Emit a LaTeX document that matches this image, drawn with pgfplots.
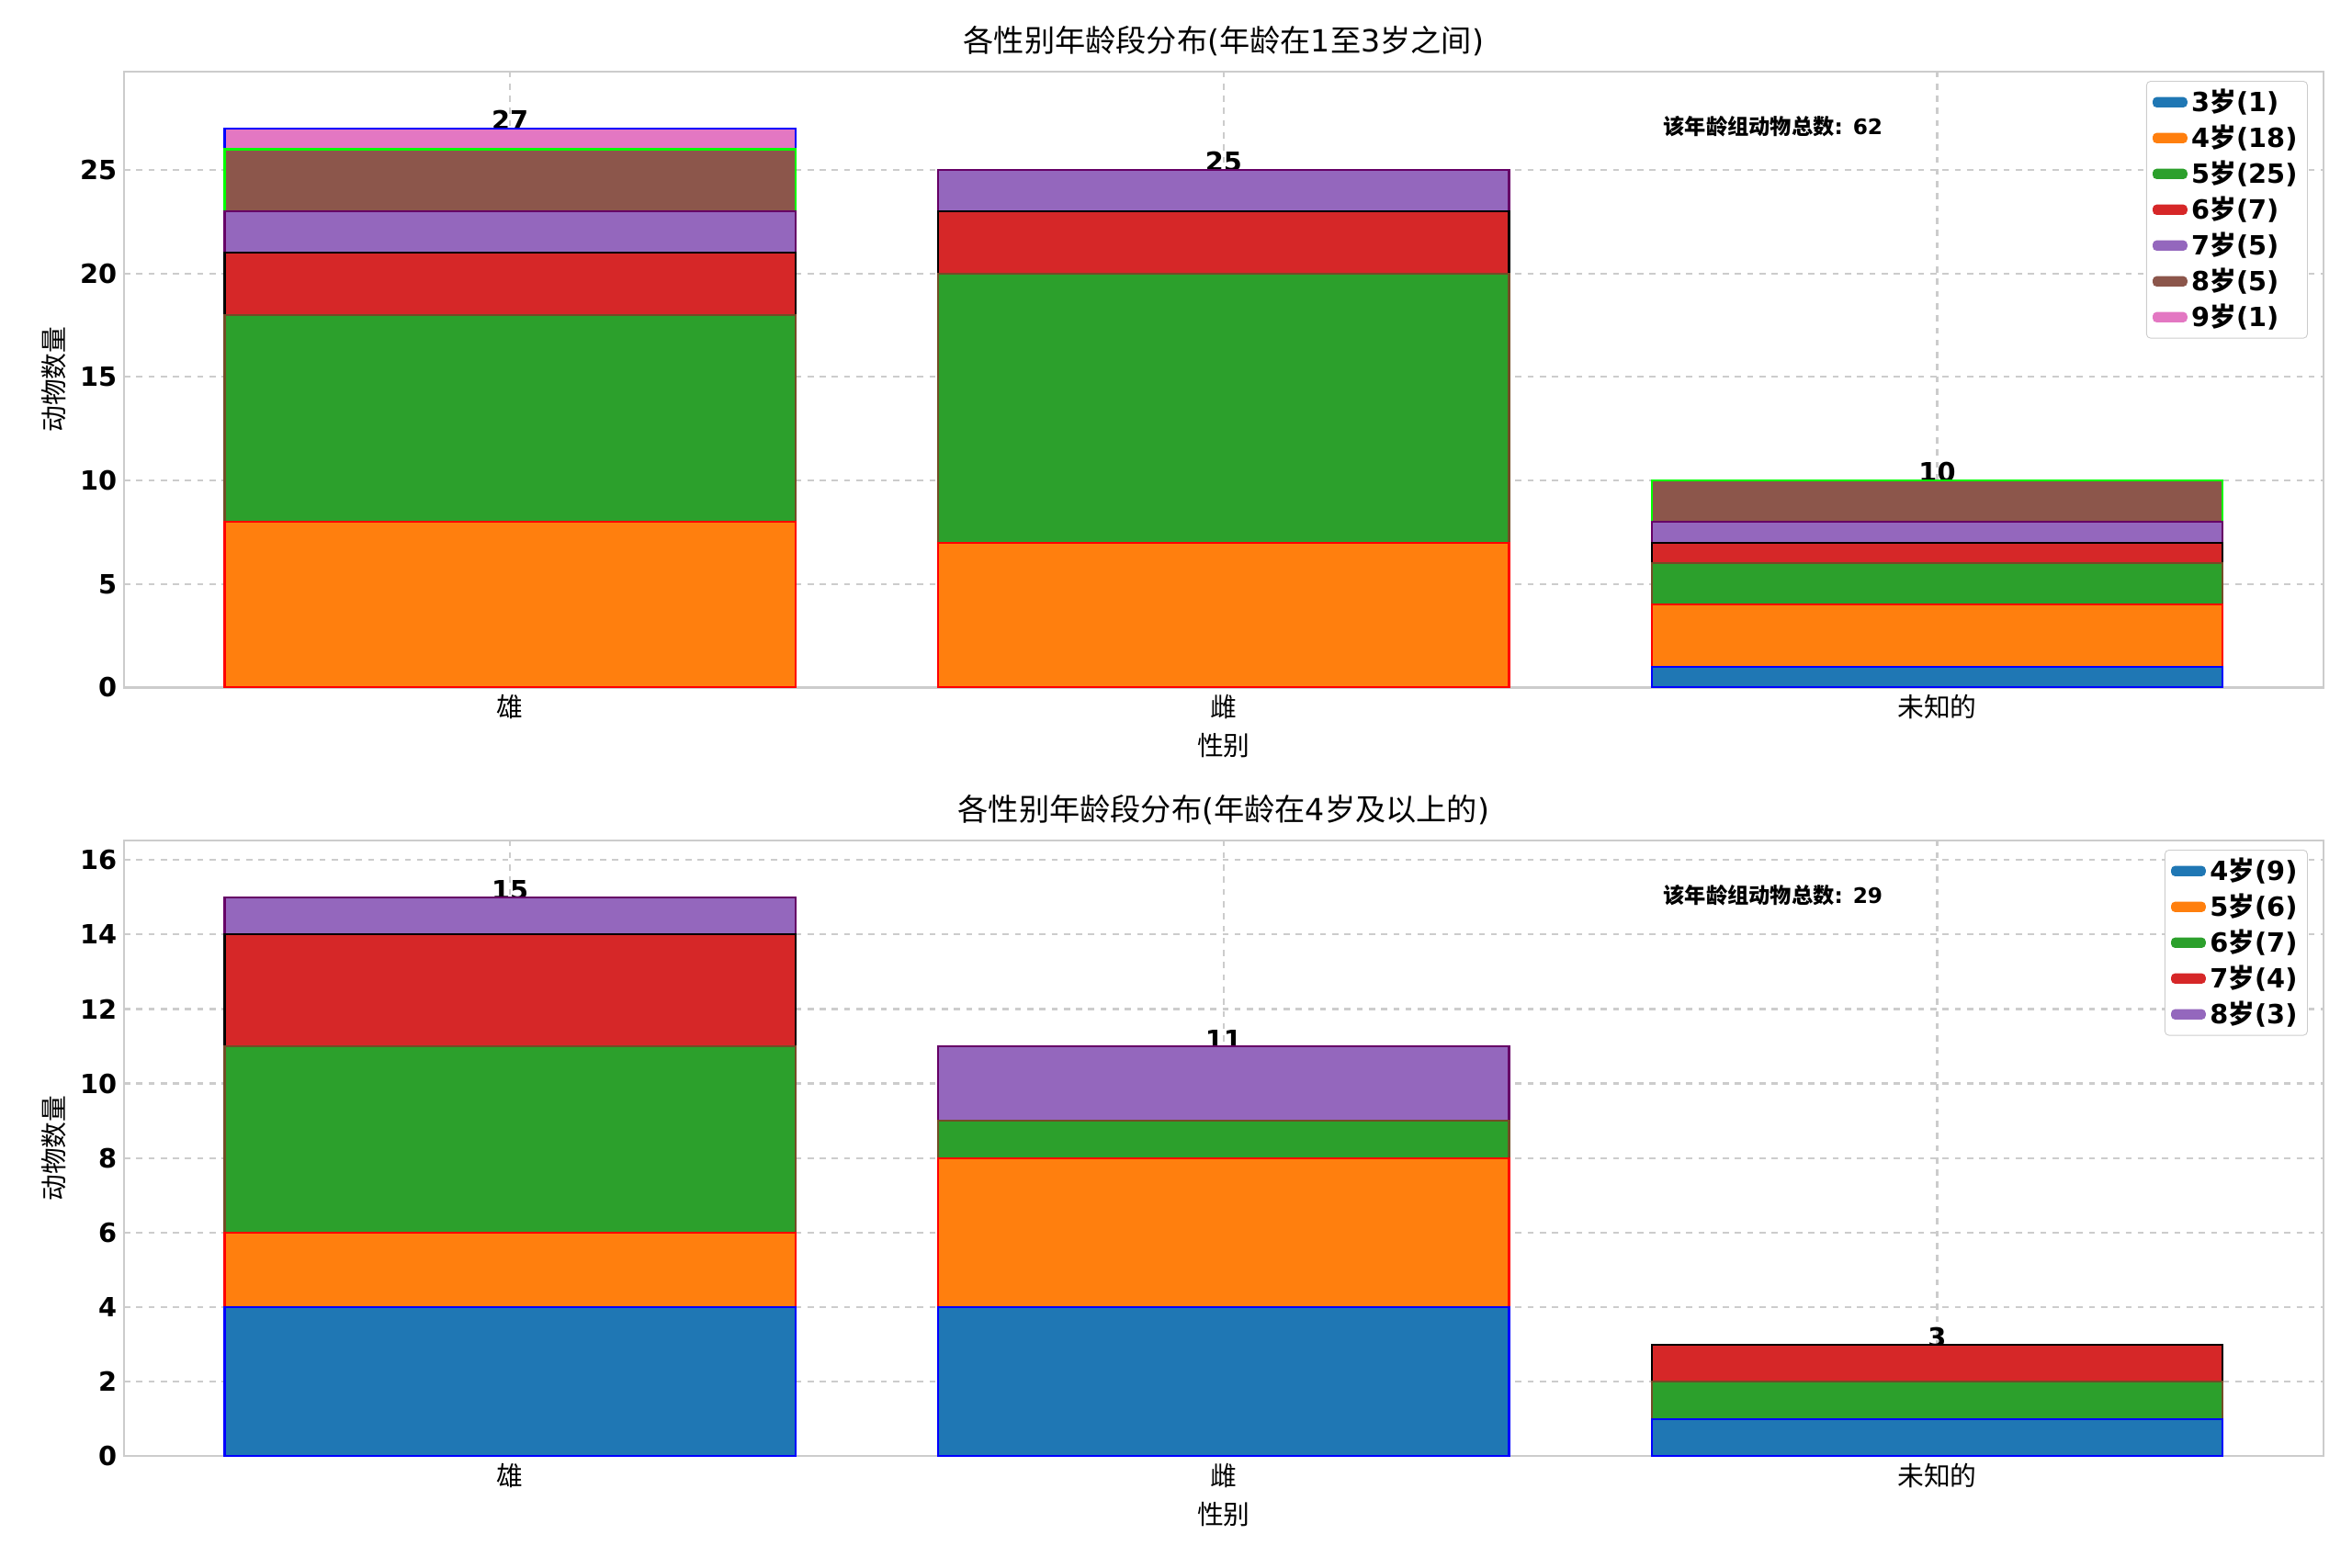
\documentclass[border=0pt]{standalone}
\usepackage{pgfplots}
\pgfplotsset{compat=1.18}
\usepackage{fontspec}
\setmainfont{DejaVu Sans}
\newfontfamily\cjk{Noto Sans CJK SC}
\definecolor{c0}{HTML}{1F77B4}
\definecolor{c1}{HTML}{FF7F0E}
\definecolor{c2}{HTML}{2CA02C}
\definecolor{c3}{HTML}{D62728}
\definecolor{c4}{HTML}{9467BD}
\definecolor{c5}{HTML}{8C564B}
\definecolor{c6}{HTML}{E377C2}
\definecolor{gridc}{HTML}{CCCCCC}
\pgfplotsset{
  mystyle/.style={
    scale only axis, width=14.96in, height=4.19in,
    anchor=north west,
    ybar stacked, bar width=0.8,
    xmin=-0.541, xmax=2.541, ymin=0,
    xtick={0,1,2},
    xticklabels={{\cjk 雄},{\cjk 雌},{\cjk 未知的}},
    xticklabel style={font=\fontsize{13}{15}\selectfont},
    yticklabel style={font=\bfseries\fontsize{13}{15}\selectfont},
    /pgf/number format/assume math mode=true,
    major tick length=0pt,
    grid=major,
    major grid style={gridc, dashed, line width=1pt},
    axis line style={gridc, line width=1pt},
    axis on top=false,
    xlabel={\cjk 性别}, ylabel={\cjk 动物数量},
    label style={font=\fontsize{13}{15}\selectfont},
    title style={font=\fontsize{15}{18}\selectfont, yshift=-2pt},
    every axis plot/.append style={draw=white, line width=1pt},
    legend style={at={(0.993,0.985)}, anchor=north east, draw=gridc, rounded corners=2pt,
      fill=white, font=\bfseries\fontsize{13}{15}\selectfont, row sep=1pt},
    legend cell align=left,
    legend image code/.code={\fill[##1, draw=none] (0cm,-0.09cm) rectangle (0.6cm,0.09cm);},
  }
}
\begin{document}
\begin{tikzpicture}
\path[use as bounding box] (-0.844in,0.4875in) rectangle (15.156in,-10.181in);
\begin{axis}[mystyle, at={(0in,0in)}, ymax=29.75, ytick={0,5,10,15,20,25},
  title={{\cjk 各性别年龄段分布}({\cjk 年龄在}1{\cjk 至}3{\cjk 岁之间})}]
\addplot+[fill=c0] coordinates {(0,0) (1,0) (2,1)};
\addplot+[fill=c1] coordinates {(0,8) (1,7) (2,3)};
\addplot+[fill=c2] coordinates {(0,10) (1,13) (2,2)};
\addplot+[fill=c3] coordinates {(0,3) (1,3) (2,1)};
\addplot+[fill=c4] coordinates {(0,2) (1,2) (2,1)};
\addplot+[fill=c5] coordinates {(0,3) (1,0) (2,2)};
\addplot+[fill=c6] coordinates {(0,1) (1,0) (2,0)};
\legend{3{\cjk 岁}(1),4{\cjk 岁}(18),5{\cjk 岁}(25),6{\cjk 岁}(7),7{\cjk 岁}(5),8{\cjk 岁}(5),9{\cjk 岁}(1)}
\node[font=\bfseries\fontsize{13}{15}\selectfont, anchor=south, inner sep=1pt] at (axis cs:0,26.8) {27};
\node[font=\bfseries\fontsize{13}{15}\selectfont, anchor=south, inner sep=1pt] at (axis cs:1,24.8) {25};
\node[font=\bfseries\fontsize{13}{15}\selectfont, anchor=south, inner sep=1pt] at (axis cs:2,9.8) {10};
\node[font=\bfseries\fontsize{10.5}{12}\selectfont, anchor=west, inner sep=0pt] at (axis cs:1.616,27.1) {{\cjk 该年龄组动物总数}: 62};
\end{axis}
\begin{axis}[mystyle, at={(0in,-5.231in)}, ymax=16.52, ytick={0,2,...,16},
  title={{\cjk 各性别年龄段分布}({\cjk 年龄在}4{\cjk 岁及以上的})}]
\addplot+[fill=c0] coordinates {(0,4) (1,4) (2,1)};
\addplot+[fill=c1] coordinates {(0,2) (1,4) (2,0)};
\addplot+[fill=c2] coordinates {(0,5) (1,1) (2,1)};
\addplot+[fill=c3] coordinates {(0,3) (1,0) (2,1)};
\addplot+[fill=c4] coordinates {(0,1) (1,2) (2,0)};
\legend{4{\cjk 岁}(9),5{\cjk 岁}(6),6{\cjk 岁}(7),7{\cjk 岁}(4),8{\cjk 岁}(3)}
\node[font=\bfseries\fontsize{13}{15}\selectfont, anchor=south, inner sep=1pt] at (axis cs:0,14.85) {15};
\node[font=\bfseries\fontsize{13}{15}\selectfont, anchor=south, inner sep=1pt] at (axis cs:1,10.85) {11};
\node[font=\bfseries\fontsize{13}{15}\selectfont, anchor=south, inner sep=1pt] at (axis cs:2,2.85) {3};
\node[font=\bfseries\fontsize{10.5}{12}\selectfont, anchor=west, inner sep=0pt] at (axis cs:1.616,15.04) {{\cjk 该年龄组动物总数}: 29};
\end{axis}
\end{tikzpicture}
\end{document}
